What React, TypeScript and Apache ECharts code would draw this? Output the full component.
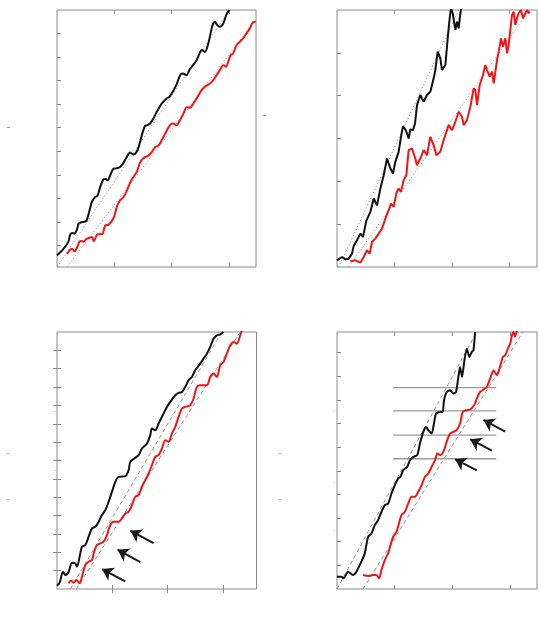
import React, { useEffect, useRef } from "react";
import * as echarts from "echarts";

// ---------- Panel 1 (top-left) ----------
const p1Black: number[][] = [
  [0, 0.59], [0.058, 0.717], [0.116, 0.873], [0.174, 1.057], [0.203, 1.198], [0.232, 1.481], [0.267, 1.537],
  [0.301, 1.509], [0.348, 1.679], [0.377, 1.934], [0.423, 1.99], [0.464, 2.004], [0.51, 2.047], [0.533, 2.188],
  [0.568, 2.499], [0.609, 2.853], [0.667, 3.065], [0.707, 3.122], [0.754, 3.489], [0.812, 3.815], [0.846, 3.829],
  [0.881, 3.772], [0.928, 3.984], [0.986, 4.267], [1.043, 4.281], [1.101, 4.338], [1.159, 4.508], [1.217, 4.762],
  [1.275, 4.946], [1.333, 4.861], [1.403, 5.045], [1.449, 5.399], [1.496, 5.823], [1.536, 6.078], [1.577, 6.106],
  [1.623, 6.177], [1.681, 6.389], [1.739, 6.672], [1.826, 7.025], [1.913, 7.238], [1.959, 7.308], [2.0, 7.45],
  [2.041, 7.62], [2.087, 7.846], [2.145, 8.214], [2.191, 8.298], [2.261, 8.228], [2.307, 8.44], [2.348, 8.581],
  [2.435, 8.864], [2.481, 9.119], [2.522, 9.289], [2.58, 9.218], [2.638, 9.571], [2.678, 9.996], [2.713, 10.349],
  [2.754, 10.491], [2.794, 10.349], [2.841, 10.279], [2.899, 10.42], [2.957, 10.816], [3.003, 10.986],
];
const p1Red: number[][] = [
  [0.174, 0.646], [0.22, 0.802], [0.261, 0.873], [0.307, 0.76], [0.359, 0.972], [0.406, 1.198], [0.464, 1.17],
  [0.51, 1.283], [0.557, 1.325], [0.609, 1.368], [0.643, 1.184], [0.696, 1.453], [0.754, 1.495], [0.788, 1.481],
  [0.841, 1.849], [0.899, 1.891], [0.986, 2.16], [1.043, 2.641], [1.101, 2.924], [1.159, 3.051], [1.217, 3.32],
  [1.275, 3.673], [1.333, 3.914], [1.391, 4.126], [1.449, 4.522], [1.507, 4.706], [1.594, 4.819], [1.652, 4.96],
  [1.71, 5.173], [1.768, 5.243], [1.826, 5.47], [1.884, 5.738], [1.971, 6.106], [2.029, 6.177], [2.087, 6.106],
  [2.145, 6.318], [2.203, 6.587], [2.261, 6.87], [2.319, 6.842], [2.377, 7.025], [2.435, 7.238], [2.522, 7.591],
  [2.58, 7.733], [2.667, 7.874], [2.725, 8.016], [2.783, 8.228], [2.841, 8.44], [2.899, 8.652], [2.945, 8.581],
  [2.986, 8.793], [3.026, 9.076], [3.072, 9.147], [3.13, 9.501], [3.188, 9.642], [3.246, 9.784], [3.304, 9.996],
  [3.362, 10.208], [3.403, 10.42], [3.449, 10.491], [3.465, 10.463],
];
const p1GuideA: number[][] = [[0, 0.095], [3.003, 10.986]];
const p1GuideB: number[][] = [[0.174, 0.095], [3.449, 10.53]];

// ---------- Panel 2 (top-right) ----------
const p2Black: number[][] = [
  [0, 0.156], [0.087, 0.234], [0.145, 0.179], [0.203, 0.195], [0.261, 0.312], [0.29, 0.491], [0.348, 0.624],
  [0.406, 0.779], [0.452, 0.701], [0.51, 1.076], [0.58, 1.286], [0.638, 1.598], [0.696, 1.442], [0.754, 1.832],
  [0.812, 2.143], [0.87, 2.533], [0.928, 2.299], [0.974, 2.182], [1.014, 2.455], [1.072, 2.689], [1.113, 3.04],
  [1.148, 3.289], [1.188, 3.211], [1.217, 3.118], [1.246, 3.001], [1.275, 3.211], [1.322, 3.196], [1.357, 3.352],
  [1.391, 3.78], [1.449, 4.014], [1.507, 3.858], [1.565, 4.014], [1.623, 4.092], [1.681, 4.404], [1.71, 4.599],
  [1.751, 5.027], [1.797, 4.871], [1.826, 4.599], [1.884, 4.715], [1.925, 5.339], [1.959, 5.807], [1.983, 6.04],
  [2.012, 5.924], [2.058, 5.534], [2.087, 5.729], [2.116, 5.573], [2.145, 5.924], [2.168, 6.08],
];
const p2Red: number[][] = [
  [0.232, 0.133], [0.319, 0.156], [0.406, 0.101], [0.464, 0.234], [0.522, 0.39], [0.568, 0.312], [0.609, 0.585],
  [0.667, 0.663], [0.725, 0.779], [0.783, 0.896], [0.841, 1.13], [0.899, 1.325], [0.939, 1.481], [0.986, 1.403],
  [1.032, 1.715], [1.072, 1.832], [1.113, 1.754], [1.159, 2.026], [1.206, 2.143], [1.246, 2.728], [1.304, 2.767],
  [1.362, 2.533], [1.391, 2.377], [1.449, 2.533], [1.507, 2.728], [1.565, 2.611], [1.623, 3.04], [1.681, 2.845],
  [1.728, 2.611], [1.797, 2.689], [1.855, 2.962], [1.942, 3.313], [2.0, 3.196], [2.058, 3.39], [2.116, 3.624],
  [2.174, 3.507], [2.203, 3.313], [2.261, 3.429], [2.319, 3.741], [2.377, 4.17], [2.406, 4.131], [2.435, 3.78],
  [2.481, 4.248], [2.539, 4.482], [2.58, 4.716], [2.609, 4.599], [2.655, 4.443], [2.696, 4.56], [2.725, 4.287],
  [2.783, 4.832], [2.812, 5.027], [2.852, 5.339], [2.887, 5.144], [2.928, 5.339], [2.957, 4.988], [2.986, 5.183],
  [3.014, 5.534], [3.043, 5.885], [3.072, 5.963], [3.101, 5.651], [3.13, 5.807], [3.159, 5.924], [3.2, 6.0],
  [3.235, 5.807], [3.275, 5.924], [3.304, 6.0], [3.333, 5.924], [3.351, 5.963],
];
const p2GuideA: number[][] = [[0.029, 0], [2.116, 6.0]];
const p2GuideB: number[][] = [[0.203, 0], [3.34, 6.0]];

// ---------- Panel 3 (bottom-left) ----------
const p3Black: number[][] = [
  [0, 0.181], [0.048, 0.345], [0.108, 0.943], [0.151, 0.762], [0.211, 0.943], [0.271, 1.433], [0.331, 1.396],
  [0.361, 1.215], [0.422, 1.941], [0.452, 2.303], [0.512, 2.394], [0.572, 2.847], [0.633, 3.301], [0.693, 3.391],
  [0.753, 3.663], [0.813, 4.026], [0.873, 4.298], [0.934, 4.752], [0.994, 5.296], [1.054, 5.84], [1.114, 6.112],
  [1.235, 6.148], [1.295, 6.474], [1.325, 6.928], [1.398, 7.109], [1.476, 7.291], [1.536, 7.653], [1.627, 7.925],
  [1.687, 8.379], [1.717, 8.741], [1.777, 8.651], [1.837, 9.013], [1.928, 9.557], [1.988, 9.92], [2.048, 10.192],
  [2.139, 10.555], [2.199, 10.682], [2.259, 10.736], [2.319, 11.008], [2.38, 11.371], [2.44, 11.552], [2.5, 11.915],
  [2.59, 12.278], [2.651, 12.55], [2.711, 12.822], [2.771, 13.185], [2.831, 13.638], [2.892, 13.819], [2.952, 13.874],
  [3.012, 14.0],
];
const p3Red: number[][] = [
  [0.211, 0.308], [0.253, 0.453], [0.301, 0.345], [0.349, 0.49], [0.41, 0.308], [0.452, 0.671], [0.512, 1.306],
  [0.572, 1.487], [0.633, 1.578], [0.663, 1.941], [0.723, 2.394], [0.783, 2.485], [0.843, 2.575], [0.904, 2.938],
  [0.964, 3.482], [1.024, 3.663], [1.114, 3.663], [1.175, 3.845], [1.235, 4.117], [1.295, 4.207], [1.355, 4.57],
  [1.416, 5.024], [1.476, 5.114], [1.536, 5.568], [1.596, 5.93], [1.657, 6.293], [1.717, 6.746], [1.777, 7.2],
  [1.837, 7.291], [1.898, 7.653], [1.958, 8.107], [2.018, 8.016], [2.078, 8.469], [2.139, 8.832], [2.199, 9.376],
  [2.259, 9.83], [2.319, 9.92], [2.41, 10.011], [2.47, 10.374], [2.53, 11.008], [2.59, 11.099], [2.711, 11.099],
  [2.771, 11.552], [2.831, 11.734], [2.892, 11.552], [2.952, 12.187], [3.012, 12.369], [3.072, 12.822],
  [3.133, 13.275], [3.193, 13.457], [3.253, 13.366], [3.313, 13.819], [3.343, 14.09],
];
const p3GuideA: number[][] = [[0.241, 0], [2.982, 14]];
const p3GuideB: number[][] = [[0.349, 0], [3.313, 14]];
const p3Arrows: number[][][] = [
  [[1.235, 0.417], [0.813, 1.088]],
  [[1.506, 1.469], [1.096, 2.14]],
  [[1.747, 2.503], [1.325, 3.174]],
];

// ---------- Panel 4 (bottom-right) ----------
const p4Black: number[][] = [
  [0, 0.521], [0.075, 0.521], [0.116, 0.451], [0.191, 0.732], [0.278, 0.592], [0.336, 0.732], [0.423, 1.155],
  [0.481, 1.507], [0.539, 2.211], [0.597, 2.352], [0.655, 2.704], [0.713, 2.915], [0.771, 3.268], [0.829, 3.549],
  [0.887, 3.62], [0.945, 4.042], [1.003, 4.394], [1.061, 4.676], [1.101, 4.746], [1.148, 5.028], [1.217, 5.169],
  [1.264, 5.451], [1.322, 5.592], [1.391, 5.662], [1.438, 6.155], [1.496, 6.648], [1.542, 6.859], [1.583, 6.718],
  [1.641, 6.577], [1.681, 7.0], [1.716, 7.423], [1.786, 7.493], [1.832, 7.493], [1.855, 7.986], [1.901, 8.338],
  [1.959, 8.408], [2.017, 8.268], [2.064, 8.338], [2.104, 8.972], [2.133, 9.394], [2.168, 8.972], [2.209, 9.676],
  [2.249, 10.169], [2.296, 9.817], [2.336, 10.028], [2.365, 10.099], [2.394, 10.873],
];
const p4Red: number[][] = [
  [0.452, 0.592], [0.539, 0.549], [0.626, 0.592], [0.684, 0.592], [0.73, 0.451], [0.771, 0.803], [0.829, 1.225],
  [0.887, 1.507], [0.928, 1.859], [0.974, 2.211], [1.032, 2.423], [1.09, 2.915], [1.119, 3.127], [1.177, 3.268],
  [1.235, 3.62], [1.293, 3.901], [1.351, 3.901], [1.409, 4.113], [1.467, 4.394], [1.525, 4.746], [1.583, 4.887],
  [1.641, 5.169], [1.699, 5.451], [1.739, 5.732], [1.797, 5.662], [1.855, 5.873], [1.901, 6.225], [1.959, 6.577],
  [2.017, 6.648], [2.075, 6.718], [2.133, 7.0], [2.18, 7.493], [2.238, 7.563], [2.307, 7.592], [2.354, 7.704],
  [2.394, 7.845], [2.423, 8.056], [2.481, 8.338], [2.539, 8.437], [2.597, 8.549], [2.655, 8.901], [2.713, 9.254],
  [2.771, 9.042], [2.8, 9.183], [2.841, 9.535], [2.875, 9.817], [2.916, 9.887], [2.974, 10.239], [3.003, 10.38],
  [3.032, 10.732], [3.061, 10.873], [3.084, 10.676], [3.119, 10.93],
];
const p4GuideA: number[][] = [[0, 0], [2.42, 10.873]];
const p4GuideB: number[][] = [[0.452, 0], [3.223, 10.873]];
const p4Levels: number[] = [8.52, 7.54, 6.51, 5.51];
const p4LevelSpan: number[] = [0.974, 2.76];
const p4Arrows: number[][][] = [
  [[2.423, 5.014], [2.046, 5.493]],
  [[2.684, 5.859], [2.307, 6.338]],
  [[2.916, 6.662], [2.539, 7.155]],
];

// ---------- Axes ----------
const xTicks: number[] = [1, 2, 3];
const p1YTicks: number[] = [1, 2, 3, 4, 5, 6, 7, 8, 9, 10];
const p2YTicks: number[] = [1, 2, 3, 4, 5];
const p3YTicks: number[] = [1, 2, 3, 4, 5, 6, 7, 8, 9, 10, 11, 12, 13];
const p4YTicks: number[] = [1, 2, 3, 4, 5, 6, 7, 8, 9, 10];

const FRAME = "#8a8a8a";
const BLACK = "#111111";
const RED = "#f01515";
const GUIDE = "#8f8f8f";

function buildOption() {
  const panels = [
    { grid: { left: 57, top: 10, width: 199, height: 257 }, xMax: 3.47, yMin: 0.095, yMax: 10.99, yTicks: p1YTicks,
      black: p1Black, red: p1Red, guides: [p1GuideA, p1GuideB], dash: [1.2, 2.2], smooth: 0.3, right: false },
    { grid: { left: 337, top: 10, width: 200, height: 257 }, xMax: 3.478, yMin: 0, yMax: 6, yTicks: p2YTicks,
      black: p2Black, red: p2Red, guides: [p2GuideA, p2GuideB], dash: [1.2, 2.2], smooth: 0, right: false },
    { grid: { left: 57, top: 332, width: 199.5, height: 257 }, xMax: 3.608, yMin: 0, yMax: 14, yTicks: p3YTicks,
      black: p3Black, red: p3Red, guides: [p3GuideA, p3GuideB], dash: [4, 3], smooth: 0.3, right: true },
    { grid: { left: 337, top: 332, width: 200, height: 257 }, xMax: 3.467, yMin: 0, yMax: 10.873, yTicks: p4YTicks,
      black: p4Black, red: p4Red, guides: [p4GuideA, p4GuideB], dash: [4, 3], smooth: 0.2, right: false },
  ];

  const tick = (vals: number[]) => ({
    show: true,
    inside: true,
    length: 4,
    customValues: vals,
    lineStyle: { color: FRAME, width: 1 },
  });

  const grid: any[] = [];
  const xAxis: any[] = [];
  const yAxis: any[] = [];
  const series: any[] = [];

  panels.forEach((p, i) => {
    grid.push({ ...p.grid, show: true, borderColor: FRAME, borderWidth: 1, backgroundColor: "#fff" });
    ["bottom", "top"].forEach((pos) => {
      xAxis.push({
        type: "value", gridIndex: i, position: pos, min: 0, max: p.xMax,
        axisLine: { show: false }, axisLabel: { show: false }, splitLine: { show: false },
        axisTick: tick(xTicks),
      });
    });
    yAxis.push({
      type: "value", gridIndex: i, position: "left", min: p.yMin, max: p.yMax,
      axisLine: { show: false }, axisLabel: { show: false }, splitLine: { show: false },
      axisTick: tick(p.yTicks),
    });
  });
  // right-side ticks for panel 3
  yAxis.push({
    type: "value", gridIndex: 2, position: "right", min: panels[2].yMin, max: panels[2].yMax,
    axisLine: { show: false }, axisLabel: { show: false }, splitLine: { show: false },
    axisTick: tick(p3YTicks),
  });

  panels.forEach((p, i) => {
    const xi = i * 2;
    p.guides.forEach((g) => {
      series.push({
        type: "line", xAxisIndex: xi, yAxisIndex: i, data: g, symbol: "none", silent: true, z: 1,
        lineStyle: { color: GUIDE, width: 1, type: p.dash },
      });
    });
    series.push({
      type: "line", xAxisIndex: xi, yAxisIndex: i, data: p.black, symbol: "none", smooth: p.smooth, z: 3,
      lineStyle: { color: BLACK, width: 2 },
    });
    series.push({
      type: "line", xAxisIndex: xi, yAxisIndex: i, data: p.red, symbol: "none", smooth: p.smooth, z: 3,
      lineStyle: { color: RED, width: 2 },
    });
  });

  // panel 4 horizontal reference levels
  p4Levels.forEach((lv) => {
    series.push({
      type: "line", xAxisIndex: 6, yAxisIndex: 3, symbol: "none", silent: true, z: 2,
      data: [[p4LevelSpan[0], lv], [p4LevelSpan[1], lv]],
      lineStyle: { color: "#9a9a9a", width: 1.3 },
    });
  });

  const arrowSeries = (xi: number, yi: number, arrows: number[][][]) => ({
    type: "line", xAxisIndex: xi, yAxisIndex: yi, data: [], symbol: "none", z: 5,
    markLine: {
      silent: true, animation: false, symbol: ["none", "arrow"], symbolSize: 11,
      label: { show: false },
      lineStyle: { color: "#1a1a1a", width: 2, type: "solid" },
      emphasis: { disabled: true },
      data: arrows.map((a) => [{ coord: a[0] }, { coord: a[1] }]),
    },
  });
  series.push(arrowSeries(4, 2, p3Arrows));
  series.push(arrowSeries(6, 3, p4Arrows));

  const mark = (x: number, y: number, w: number, c: string) => ({
    type: "rect", shape: { x, y, width: w, height: 1 }, style: { fill: c }, silent: true,
  });

  return {
    animation: false,
    backgroundColor: "#ffffff",
    grid, xAxis, yAxis, series,
    graphic: [
      mark(7, 127, 3, "#999"),
      mark(263, 115, 3, "#999"),
      mark(7, 453, 2, "#aaa"),
      mark(7, 499, 2, "#aaa"),
      mark(279, 453, 2, "#aaa"),
      mark(279, 499, 2, "#aaa"),
      mark(54, 411, 2, "#ddd"),
      mark(54, 470, 2, "#ddd"),
      mark(54, 530, 2, "#ddd"),
      mark(333, 411, 2, "#ddd"),
      mark(333, 482, 2, "#ddd"),
      mark(333, 530, 2, "#ddd"),
    ],
  };
}

export default function App() {
  const ref = useRef<HTMLDivElement>(null);
  useEffect(() => {
    if (!ref.current) return;
    const chart = echarts.init(ref.current, undefined, { renderer: "svg" });
    chart.setOption(buildOption() as any);
    return () => chart.dispose();
  }, []);
  return (
    <div
      ref={ref}
      style={{ position: "absolute", left: 0, top: 0, width: 539, height: 638, background: "#fff" }}
    />
  );
}
